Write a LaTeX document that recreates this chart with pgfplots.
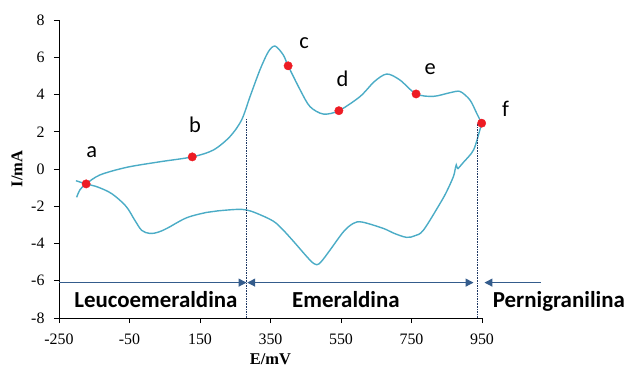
\documentclass[border=0pt]{standalone}
\usepackage{pgfplots}
\pgfplotsset{compat=1.18}
\usepackage{fontspec}
\setmainfont{Liberation Serif}
\newfontfamily\calfont{Carlito}
\usetikzlibrary{arrows.meta}
\definecolor{cvblue}{RGB}{75,172,198}
\definecolor{ptred}{RGB}{237,28,36}
\definecolor{zoneblue}{RGB}{52,92,140}
\definecolor{navy}{RGB}{31,56,100}

\begin{document}
\begin{tikzpicture}
\begin{axis}[
  name=ax, scale only axis, width=423bp, height=298bp,
  xmin=-250, xmax=950, ymin=-8, ymax=8,
  axis lines*=left, clip=false,
  xtick={-250,-50,150,350,550,750,950},
  xticklabels={-250,-50,150,350,550,750,950},
  ytick={-8,-6,-4,-2,0,2,4,6,8},
  yticklabels={-8,-6,-4,-2,0,2,4,6,8},
  tick align=outside, major tick length=5bp,
  tick style={black, line width=0.8bp},
  axis line style={black, line width=0.9bp},
  ticklabel style={font=\fontsize{16}{18}\selectfont},
  xticklabel style={yshift=-7bp},
  yticklabel style={xshift=-6bp},
  xlabel={\textbf{E/mV}}, ylabel={\textbf{I/mA}},
  label style={font=\fontsize{16.5}{19}\selectfont},
  xlabel style={at={(axis description cs:0.5,-0.138)}, anchor=center},
  ylabel style={at={(axis description cs:-0.0993,0.5)}, anchor=center},
]

% cyclic voltammogram: anodic scan, then cathodic return
\addplot[cvblue, line width=1.4bp, smooth, tension=0.5] coordinates {
  (-200,-1.52) (-190,-1.10) (-173,-0.80) (-134,-0.32) (-58,0.09) (37,0.39)
  (128,0.65) (188,1.02) (235,1.74) (268,2.63) (292,3.89) (320,5.32)
  (344,6.30) (363,6.60) (386,6.13) (400,5.54) (434,4.25) (462,3.35)
  (500,2.95) (544,3.13) (604,3.89) (645,4.70) (680,5.10) (717,4.78)
  (763,4.03) (812,3.90) (860,4.10) (888,4.16) (916,3.70) (935,2.99)
  (949,2.46)
};
\addplot[cvblue, line width=1.4bp, smooth, tension=0.5] coordinates {
  (949,2.46) (944,2.10) (926,1.02) (897,0.35) (881,0.00)
};
\addplot[cvblue, line width=1.4bp] coordinates {
  (881,0.00) (877,0.22) (874,0.02)
};
\addplot[cvblue, line width=1.4bp, smooth, tension=0.55] coordinates {
  (874,0.02) (869,-0.40) (850,-1.20) (831,-1.85) (784,-3.28) (760,-3.58)
  (736,-3.67) (700,-3.45) (670,-3.19) (610,-2.85) (585,-2.92) (557,-3.37)
  (519,-4.35) (495,-4.95) (481,-5.14) (462,-4.89) (415,-3.88) (386,-3.28)
  (358,-2.80) (311,-2.38) (282,-2.20) (254,-2.17) (200,-2.25) (169,-2.33)
  (112,-2.62) (56,-3.19) (30,-3.40) (8,-3.46) (-15,-3.30) (-35,-2.75)
  (-60,-2.00) (-100,-1.33) (-140,-0.97) (-173,-0.80) (-202,-0.63)
};

% marked states
\addplot[only marks, mark=*, mark size=4.2bp, ptred, mark options={draw=ptred, fill=ptred}] coordinates {
  (-173,-0.80) (128,0.65) (400,5.54) (544,3.13) (763,4.03) (949,2.46)
};

\begin{scope}[font=\calfont\fontsize{22.5}{24}\selectfont]
  \node[anchor=base] at (axis cs:-157,0.63) {a};
  \node[anchor=base] at (axis cs:136,1.97) {b};
  \node[anchor=base] at (axis cs:445,6.49) {c};
  \node[anchor=base] at (axis cs:554,4.42) {d};
  \node[anchor=base] at (axis cs:803,5.05) {e};
  \node[anchor=base] at (axis cs:1017,2.81) {f};
\end{scope}

% boundaries between oxidation states
\draw[navy, line width=0.8bp, dash pattern=on 1.6bp off 1bp] (axis cs:283,-8) -- (axis cs:283,2.72);
\draw[navy, line width=0.8bp, dash pattern=on 1.6bp off 1bp] (axis cs:938,-8) -- (axis cs:938,2.45);

\draw[zoneblue, line width=1.2bp, -{Triangle[length=8bp,width=8bp]}] (axis cs:-250,-6.1) -- (axis cs:282,-6.1);
\draw[zoneblue, line width=1.2bp, {Triangle[length=8bp,width=8bp]}-{Triangle[length=8bp,width=8bp]}] (axis cs:284,-6.1) -- (axis cs:926,-6.1);
\draw[zoneblue, line width=1.2bp, -{Triangle[length=8bp,width=8bp]}] (axis cs:1116,-6.1) -- (axis cs:957,-6.1);

\begin{scope}[font=\calfont\bfseries\fontsize{23}{26}\selectfont]
  \node[anchor=base] at (axis cs:25,-7.42) {Leucoemeraldina};
  \node[anchor=base] at (axis cs:564,-7.42) {Emeraldina};
  \node[anchor=base] at (axis cs:1168,-7.42) {Pernigranilina};
\end{scope}
\end{axis}
\pgfresetboundingbox
\path[use as bounding box] ([shift={(-59bp,-50bp)}]ax.south west) rectangle ([shift={(149bp,20bp)}]ax.north east);
\end{tikzpicture}
\end{document}
